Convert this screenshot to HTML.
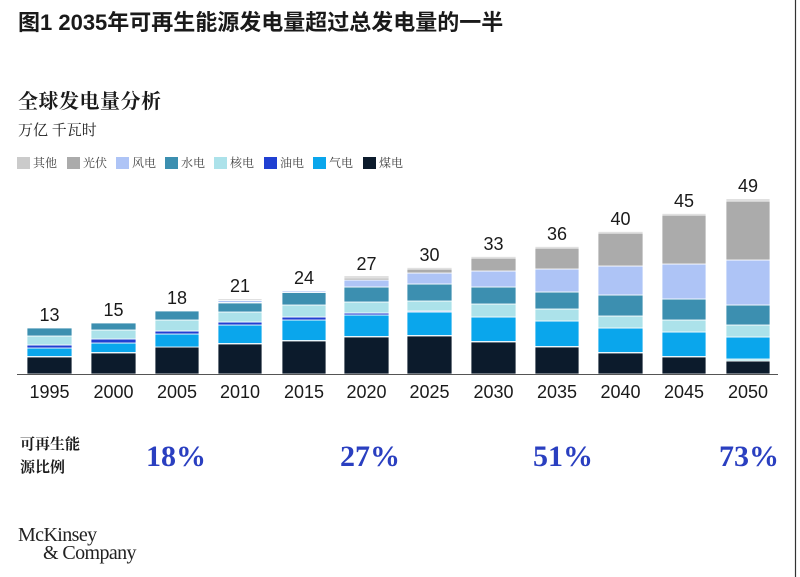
<!DOCTYPE html>
<html><head><meta charset="utf-8">
<style>
html,body{margin:0;padding:0;background:#fff;}
body{width:800px;height:577px;position:relative;overflow:hidden;}
.t{position:absolute;white-space:nowrap;}
.title{left:18px;top:8px;font-size:22px;font-weight:bold;color:#1a1a1a;font-family:"Liberation Sans","Noto Sans CJK SC",sans-serif;line-height:30px;}
.sub{left:18px;top:89px;font-size:20px;font-weight:bold;color:#1a1a1a;font-family:"Liberation Serif","Noto Serif CJK SC",serif;line-height:26px;letter-spacing:0.5px;}
.unit{left:18px;top:120px;font-size:15px;color:#222;font-family:"Liberation Serif","Noto Serif CJK SC",serif;line-height:22px;}
.lg{position:absolute;top:157px;width:13px;height:12px;}
.lt{position:absolute;top:154px;font-size:12px;color:#444;font-family:"Liberation Serif","Noto Serif CJK SC",serif;line-height:18px;}
.ren{left:20px;font-size:15px;font-weight:bold;color:#1a1a1a;font-family:"Liberation Serif","Noto Serif CJK SC",serif;line-height:20px;}
.pct{font-family:"Liberation Serif",serif;font-weight:bold;font-size:30px;color:#2a3fc0;top:439px;line-height:36px;width:100px;text-align:center;}
.mck{left:18px;font-family:"Liberation Serif",serif;font-size:20px;color:#222;letter-spacing:-0.6px;line-height:20px;}
</style></head><body>
<div class="t title">图1 2035年可再生能源发电量超过总发电量的一半</div>
<div class="t sub">全球发电量分析</div>
<div class="t unit">万亿 千瓦时</div>

<div class="lg" style="left:17px;background:#cbcbcb"></div><div class="lt" style="left:33px">其他</div>
<div class="lg" style="left:67px;background:#ababab"></div><div class="lt" style="left:83px">光伏</div>
<div class="lg" style="left:116px;background:#aec4f6"></div><div class="lt" style="left:132px">风电</div>
<div class="lg" style="left:165px;background:#3c8fb0"></div><div class="lt" style="left:181px">水电</div>
<div class="lg" style="left:214px;background:#ace2ea"></div><div class="lt" style="left:230px">核电</div>
<div class="lg" style="left:264px;background:#2040d2"></div><div class="lt" style="left:280px">油电</div>
<div class="lg" style="left:313px;background:#0aa6ec"></div><div class="lt" style="left:329px">气电</div>
<div class="lg" style="left:363px;background:#0c1b2c"></div><div class="lt" style="left:379px">煤电</div>

<svg width="800" height="577" style="position:absolute;left:0;top:0" xmlns="http://www.w3.org/2000/svg">
<g id="bars" stroke="#fff" stroke-width="0.8">
<!-- 1995 -->
<rect x="27" y="357" width="45" height="17" fill="#0c1b2c"/>
<rect x="27" y="348" width="45" height="8.5" fill="#0aa6ec"/>
<rect x="27" y="345" width="45" height="3" fill="#2040d2"/>
<rect x="27" y="336" width="45" height="9" fill="#ace2ea"/>
<rect x="27" y="328" width="45" height="8" fill="#3c8fb0"/>
<!-- 2000 -->
<rect x="91" y="353" width="45" height="21" fill="#0c1b2c"/>
<rect x="91" y="343" width="45" height="9.5" fill="#0aa6ec"/>
<rect x="91" y="339" width="45" height="4" fill="#2040d2"/>
<rect x="91" y="330" width="45" height="9" fill="#ace2ea"/>
<rect x="91" y="323" width="45" height="7" fill="#3c8fb0"/>
<!-- 2005 -->
<rect x="155" y="347" width="44" height="27" fill="#0c1b2c"/>
<rect x="155" y="334" width="44" height="13" fill="#0aa6ec"/>
<rect x="155" y="331" width="44" height="3" fill="#2040d2"/>
<rect x="155" y="320" width="44" height="11" fill="#ace2ea"/>
<rect x="155" y="311" width="44" height="9" fill="#3c8fb0"/>
<!-- 2010 -->
<rect x="218" y="344" width="44" height="30" fill="#0c1b2c"/>
<rect x="218" y="325" width="44" height="18.5" fill="#0aa6ec"/>
<rect x="218" y="322" width="44" height="3" fill="#2040d2"/>
<rect x="218" y="312" width="44" height="10" fill="#ace2ea"/>
<rect x="218" y="303" width="44" height="9" fill="#3c8fb0"/>
<rect x="218" y="300.5" width="44" height="2" fill="#aec4f6"/>
<rect x="218" y="299" width="44" height="1.5" fill="#cbcbcb"/>
<!-- 2015 -->
<rect x="282" y="341" width="44" height="33" fill="#0c1b2c"/>
<rect x="282" y="320" width="44" height="20.5" fill="#0aa6ec"/>
<rect x="282" y="317" width="44" height="3" fill="#2040d2"/>
<rect x="282" y="305" width="44" height="12" fill="#ace2ea"/>
<rect x="282" y="292.5" width="44" height="12.5" fill="#3c8fb0"/>
<rect x="282" y="291" width="44" height="1.5" fill="#aec4f6"/>
<!-- 2020 -->
<rect x="344" y="337" width="45" height="37" fill="#0c1b2c"/>
<rect x="344" y="315" width="45" height="21.5" fill="#0aa6ec"/>
<rect x="344" y="313" width="45" height="2" fill="#2040d2"/>
<rect x="344" y="302" width="45" height="11" fill="#ace2ea"/>
<rect x="344" y="287" width="45" height="15" fill="#3c8fb0"/>
<rect x="344" y="280" width="45" height="7" fill="#aec4f6"/>
<rect x="344" y="278" width="45" height="2" fill="#ababab"/>
<rect x="344" y="276" width="45" height="2" fill="#cbcbcb"/>
<!-- 2025 -->
<rect x="407" y="336" width="45" height="38" fill="#0c1b2c"/>
<rect x="407" y="312" width="45" height="23.5" fill="#0aa6ec"/>
<rect x="407" y="311" width="45" height="1" fill="#2040d2"/>
<rect x="407" y="301" width="45" height="10" fill="#ace2ea"/>
<rect x="407" y="284" width="45" height="17" fill="#3c8fb0"/>
<rect x="407" y="273" width="45" height="11" fill="#aec4f6"/>
<rect x="407" y="269" width="45" height="4" fill="#ababab"/>
<rect x="407" y="267.5" width="45" height="1.5" fill="#cbcbcb"/>
<!-- 2030 -->
<rect x="471" y="342" width="45" height="32" fill="#0c1b2c"/>
<rect x="471" y="317" width="45" height="24.5" fill="#0aa6ec"/>
<rect x="471" y="304" width="45" height="13" fill="#ace2ea"/>
<rect x="471" y="287" width="45" height="17" fill="#3c8fb0"/>
<rect x="471" y="271" width="45" height="16" fill="#aec4f6"/>
<rect x="471" y="258" width="45" height="13" fill="#ababab"/>
<rect x="471" y="256.5" width="45" height="1.5" fill="#cbcbcb"/>
<!-- 2035 -->
<rect x="535" y="347" width="44" height="27" fill="#0c1b2c"/>
<rect x="535" y="321" width="44" height="25.5" fill="#0aa6ec"/>
<rect x="535" y="309" width="44" height="12" fill="#ace2ea"/>
<rect x="535" y="292" width="44" height="17" fill="#3c8fb0"/>
<rect x="535" y="269" width="44" height="23" fill="#aec4f6"/>
<rect x="535" y="248" width="44" height="21" fill="#ababab"/>
<rect x="535" y="246.5" width="44" height="1.5" fill="#cbcbcb"/>
<!-- 2040 -->
<rect x="598" y="353" width="45" height="21" fill="#0c1b2c"/>
<rect x="598" y="328" width="45" height="24.5" fill="#0aa6ec"/>
<rect x="598" y="316" width="45" height="12" fill="#ace2ea"/>
<rect x="598" y="295" width="45" height="21" fill="#3c8fb0"/>
<rect x="598" y="266" width="45" height="29" fill="#aec4f6"/>
<rect x="598" y="233" width="45" height="33" fill="#ababab"/>
<rect x="598" y="231.5" width="45" height="1.5" fill="#cbcbcb"/>
<!-- 2045 -->
<rect x="662" y="357" width="44" height="17" fill="#0c1b2c"/>
<rect x="662" y="332" width="44" height="24.5" fill="#0aa6ec"/>
<rect x="662" y="320" width="44" height="12" fill="#ace2ea"/>
<rect x="662" y="299" width="44" height="21" fill="#3c8fb0"/>
<rect x="662" y="264" width="44" height="35" fill="#aec4f6"/>
<rect x="662" y="215" width="44" height="49" fill="#ababab"/>
<rect x="662" y="213.5" width="44" height="1.5" fill="#cbcbcb"/>
<!-- 2050 -->
<rect x="726" y="361" width="44" height="13" fill="#0c1b2c"/>
<rect x="726" y="359" width="44" height="2" fill="#ace2ea"/>
<rect x="726" y="337" width="44" height="22" fill="#0aa6ec"/>
<rect x="726" y="325" width="44" height="12" fill="#ace2ea"/>
<rect x="726" y="305" width="44" height="20" fill="#3c8fb0"/>
<rect x="726" y="260" width="44" height="45" fill="#aec4f6"/>
<rect x="726" y="201" width="44" height="59" fill="#ababab"/>
<rect x="726" y="199" width="44" height="2" fill="#cbcbcb"/>
</g>
<line x1="17" y1="374.5" x2="778" y2="374.5" stroke="#555" stroke-width="1"/>
<g font-family="Liberation Sans, sans-serif" font-size="18" fill="#1a1a1a" text-anchor="middle">
<text x="49.5" y="321">13</text>
<text x="113.5" y="316">15</text>
<text x="177" y="304">18</text>
<text x="240" y="292">21</text>
<text x="304" y="284">24</text>
<text x="366.5" y="270">27</text>
<text x="429.5" y="261">30</text>
<text x="493.5" y="250">33</text>
<text x="557" y="240">36</text>
<text x="620.5" y="225">40</text>
<text x="684" y="207">45</text>
<text x="748" y="192">49</text>
</g>
<g font-family="Liberation Sans, sans-serif" font-size="18" fill="#1a1a1a" text-anchor="middle">
<text x="49.5" y="398">1995</text>
<text x="113.5" y="398">2000</text>
<text x="177" y="398">2005</text>
<text x="240" y="398">2010</text>
<text x="304" y="398">2015</text>
<text x="366.5" y="398">2020</text>
<text x="429.5" y="398">2025</text>
<text x="493.5" y="398">2030</text>
<text x="557" y="398">2035</text>
<text x="620.5" y="398">2040</text>
<text x="684" y="398">2045</text>
<text x="748" y="398">2050</text>
</g>
<line x1="795.5" y1="0" x2="795.5" y2="577" stroke="#333" stroke-width="1.2"/>
</svg>

<div class="t ren" style="top:435px">可再生能</div>
<div class="t ren" style="top:458px">源比例</div>
<div class="t pct" style="left:126px">18%</div>
<div class="t pct" style="left:320px">27%</div>
<div class="t pct" style="left:513px">51%</div>
<div class="t pct" style="left:699px">73%</div>

<div class="t mck" style="top:525px">McKinsey</div>
<div class="t mck" style="top:543px;left:43px">&amp; Company</div>
</body></html>
